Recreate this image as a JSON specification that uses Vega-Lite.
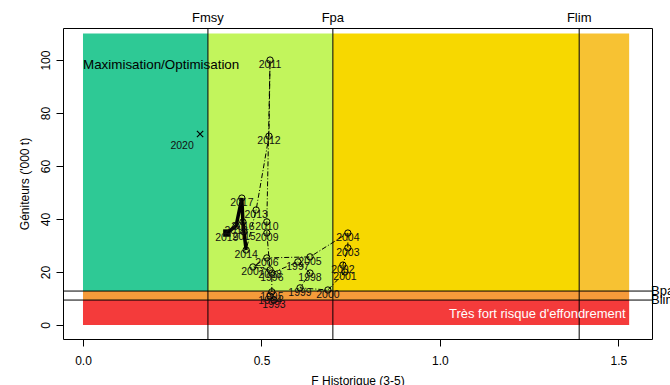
{
  "$schema": "https://vega.github.io/schema/vega-lite/v6.json",
  "width": 589,
  "height": 311,
  "autosize": "none",
  "padding": {"left": 63, "top": 28, "right": 18, "bottom": 46},
  "background": "white",
  "config": {
    "font": "Liberation Sans",
    "view": {"stroke": "black", "strokeWidth": 1},
    "axis": {"grid": false, "domain": false, "tickColor": "black", "labelColor": "black", "titleColor": "black", "labelFontSize": 12, "titleFontSize": 12, "titleFontWeight": "normal", "tickSize": 7}
  },
  "datasets": {
    "zones": [
      {"zone": "vert", "F1": 0, "F2": 0.35, "B1": 12.8, "B2": 110},
      {"zone": "vertclair", "F1": 0.35, "F2": 0.70, "B1": 12.8, "B2": 110},
      {"zone": "jaune", "F1": 0.70, "F2": 1.39, "B1": 12.8, "B2": 110},
      {"zone": "orangeclair", "F1": 1.39, "F2": 1.53, "B1": 12.8, "B2": 110},
      {"zone": "orange", "F1": 0, "F2": 1.53, "B1": 9.4, "B2": 12.8},
      {"zone": "rouge", "F1": 0, "F2": 1.53, "B1": 0, "B2": 9.4}
    ],
    "fref": [
      {"label": "Fmsy", "F": 0.35},
      {"label": "Fpa", "F": 0.70},
      {"label": "Flim", "F": 1.39}
    ],
    "bref": [
      {"label": "Bpa", "B": 12.8},
      {"label": "Blim", "B": 9.4}
    ],
    "traj": [
      {"year": 1993, "F": 0.535, "B": 9.4},
      {"year": 1994, "F": 0.524, "B": 10.9},
      {"year": 1995, "F": 0.529, "B": 12.5},
      {"year": 1996, "F": 0.529, "B": 19.6},
      {"year": 1997, "F": 0.602, "B": 23.8},
      {"year": 1998, "F": 0.636, "B": 19.6},
      {"year": 1999, "F": 0.608, "B": 14.0},
      {"year": 2000, "F": 0.686, "B": 13.2},
      {"year": 2001, "F": 0.734, "B": 20.0},
      {"year": 2002, "F": 0.728, "B": 22.6},
      {"year": 2003, "F": 0.742, "B": 29.1},
      {"year": 2004, "F": 0.742, "B": 34.7},
      {"year": 2005, "F": 0.636, "B": 25.7},
      {"year": 2006, "F": 0.515, "B": 25.3},
      {"year": 2007, "F": 0.476, "B": 21.9},
      {"year": 2008, "F": 0.524, "B": 20.8},
      {"year": 2009, "F": 0.515, "B": 34.7},
      {"year": 2010, "F": 0.515, "B": 38.9},
      {"year": 2011, "F": 0.524, "B": 100},
      {"year": 2012, "F": 0.521, "B": 71.3},
      {"year": 2013, "F": 0.485, "B": 43.4},
      {"year": 2014, "F": 0.457, "B": 28.3},
      {"year": 2015, "F": 0.451, "B": 35.1},
      {"year": 2016, "F": 0.448, "B": 38.9},
      {"year": 2017, "F": 0.445, "B": 47.9},
      {"year": 2018, "F": 0.429, "B": 37.4},
      {"year": 2019, "F": 0.403, "B": 34.7},
      {"year": 2020, "F": 0.328, "B": 72.1}
    ],
    "notes": [
      {"text": "Maximisation/Optimisation", "F": 0, "B": 98, "pos": "left"},
      {"text": "Très fort risque d'effondrement", "F": 1.52, "B": 4, "pos": "right"}
    ]
  },
  "layer": [
    {
      "data": {"name": "zones"},
      "mark": {"type": "rect"},
      "encoding": {
        "x": {"field": "F1", "type": "quantitative", "scale": {"domain": [-0.056, 1.594], "nice": false, "zero": false},
              "axis": {"values": [0, 0.5, 1, 1.5], "format": ".1f", "title": "F Historique (3-5)", "labelPadding": 9, "titlePadding": 9}},
        "x2": {"field": "F2"},
        "y": {"field": "B1", "type": "quantitative", "scale": {"domain": [-5.3, 112.1], "nice": false, "zero": false},
              "axis": {"values": [0, 20, 40, 60, 80, 100], "title": "Géniteurs ('000 t)", "labelAngle": -90, "labelAlign": "center", "labelBaseline": "bottom", "labelPadding": 4, "titlePadding": 8}},
        "y2": {"field": "B2"},
        "color": {"field": "zone", "type": "nominal", "legend": null,
                  "scale": {"domain": ["vert", "vertclair", "jaune", "orangeclair", "orange", "rouge"],
                            "range": ["#2EC995", "#C2F55C", "#F7D800", "#F7C233", "#F59B3A", "#F43B3B"]}}
      }
    },
    {
      "data": {"name": "fref"},
      "mark": {"type": "rule", "color": "black", "strokeWidth": 1},
      "encoding": {"x": {"field": "F", "type": "quantitative"}}
    },
    {
      "data": {"name": "bref"},
      "mark": {"type": "rule", "color": "black", "strokeWidth": 1},
      "encoding": {"y": {"field": "B", "type": "quantitative"}}
    },
    {
      "data": {"name": "fref"},
      "mark": {"type": "text", "fontSize": 13, "baseline": "bottom", "align": "center", "dy": -3, "color": "black"},
      "encoding": {"x": {"field": "F", "type": "quantitative"}, "y": {"datum": 112.1}, "text": {"field": "label"}}
    },
    {
      "data": {"name": "bref"},
      "mark": {"type": "text", "fontSize": 13, "baseline": "middle", "align": "left", "dx": -1, "color": "black"},
      "encoding": {"y": {"field": "B", "type": "quantitative"}, "x": {"datum": 1.594}, "text": {"field": "label"}}
    },
    {
      "data": {"name": "notes"},
      "transform": [{"filter": "datum.pos == 'left'"}],
      "mark": {"type": "text", "fontSize": 13.4, "align": "left", "baseline": "middle", "color": "black"},
      "encoding": {"x": {"field": "F", "type": "quantitative"}, "y": {"field": "B", "type": "quantitative"}, "text": {"field": "text"}}
    },
    {
      "data": {"name": "notes"},
      "transform": [{"filter": "datum.pos == 'right'"}],
      "mark": {"type": "text", "fontSize": 13, "align": "right", "baseline": "middle", "color": "white"},
      "encoding": {"x": {"field": "F", "type": "quantitative"}, "y": {"field": "B", "type": "quantitative"}, "text": {"field": "text"}}
    },
    {
      "data": {"name": "traj"},
      "transform": [{"filter": "datum.year <= 2014"}],
      "mark": {"type": "line", "color": "black", "strokeWidth": 1, "strokeDash": [5, 2, 1, 2]},
      "encoding": {"x": {"field": "F", "type": "quantitative"}, "y": {"field": "B", "type": "quantitative"}, "order": {"field": "year"}}
    },
    {
      "data": {"name": "traj"},
      "transform": [{"filter": "datum.year >= 2014 && datum.year <= 2019"}],
      "mark": {"type": "line", "color": "black", "strokeWidth": 3.5},
      "encoding": {"x": {"field": "F", "type": "quantitative"}, "y": {"field": "B", "type": "quantitative"}, "order": {"field": "year"}}
    },
    {
      "data": {"name": "traj"},
      "transform": [{"filter": "datum.year <= 2018"}],
      "mark": {"type": "point", "shape": "circle", "filled": false, "color": "black", "size": 40, "strokeWidth": 1, "opacity": 1},
      "encoding": {"x": {"field": "F", "type": "quantitative"}, "y": {"field": "B", "type": "quantitative"}}
    },
    {
      "data": {"name": "traj"},
      "transform": [{"filter": "datum.year == 2019"}],
      "mark": {"type": "point", "shape": "square", "filled": true, "color": "black", "size": 55, "opacity": 1},
      "encoding": {"x": {"field": "F", "type": "quantitative"}, "y": {"field": "B", "type": "quantitative"}}
    },
    {
      "data": {"name": "traj"},
      "transform": [{"filter": "datum.year == 2020"}],
      "mark": {"type": "point", "shape": "M-1,-1L1,1M-1,1L1,-1", "filled": false, "color": "black", "size": 40, "strokeWidth": 1.2, "opacity": 1},
      "encoding": {"x": {"field": "F", "type": "quantitative"}, "y": {"field": "B", "type": "quantitative"}}
    },
    {
      "data": {"name": "traj"},
      "transform": [{"filter": "datum.year <= 2019"}],
      "mark": {"type": "text", "fontSize": 10.5, "align": "center", "baseline": "middle", "dy": 5, "color": "#111111"},
      "encoding": {"x": {"field": "F", "type": "quantitative"}, "y": {"field": "B", "type": "quantitative"}, "text": {"field": "year", "type": "nominal"}}
    },
    {
      "data": {"name": "traj"},
      "transform": [{"filter": "datum.year == 2020"}],
      "mark": {"type": "text", "fontSize": 10.5, "align": "center", "baseline": "middle", "dx": -18, "dy": 12, "color": "#111111"},
      "encoding": {"x": {"field": "F", "type": "quantitative"}, "y": {"field": "B", "type": "quantitative"}, "text": {"field": "year", "type": "nominal"}}
    }
  ]
}
